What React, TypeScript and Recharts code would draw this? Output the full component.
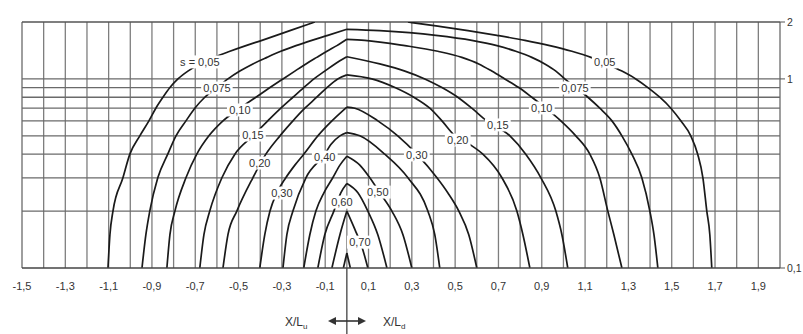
import React from "react";
import { ComposedChart, Line, Scatter, XAxis, YAxis, ReferenceLine } from "recharts";

type Pt = [number, number];

// axis ticks and grid
const xTicks = [-1.5, -1.3, -1.1, -0.9, -0.7, -0.5, -0.3, -0.1, 0.1, 0.3, 0.5, 0.7, 0.9, 1.1, 1.3, 1.5, 1.7, 1.9];
const yTicks = [0.1, 1, 2];
const gridX = [
  -1.4, -1.3, -1.2, -1.1, -1, -0.9, -0.8, -0.7, -0.6, -0.5, -0.4, -0.3, -0.2, -0.1, 0,
  0.1, 0.2, 0.3, 0.4, 0.5, 0.6, 0.7, 0.8, 0.9, 1, 1.1, 1.2, 1.3, 1.4, 1.5, 1.6, 1.7, 1.8, 1.9
];
const gridY = [0.2, 0.3, 0.4, 0.5, 0.6, 0.7, 0.8, 0.9, 1];

// isolines s = const, left (upstream) and right (downstream) branches: [x/L, y]
const s005L: Pt[] = [[-1.103, 0.1], [-1.094, 0.15], [-1.08, 0.2], [-1.034, 0.3], [-1.002, 0.4], [-0.956, 0.5], [-0.914, 0.6], [-0.882, 0.7], [-0.849, 0.8], [-0.817, 0.9], [-0.78, 1.0], [-0.734, 1.1], [-0.679, 1.2], [-0.614, 1.3], [-0.54, 1.4], [-0.466, 1.5], [-0.392, 1.6], [-0.263, 1.8], [-0.148, 2.0]];
const s005R: Pt[] = [[0.282, 2.0], [0.42, 1.9], [0.559, 1.8], [0.693, 1.7], [0.822, 1.6], [0.937, 1.5], [1.039, 1.4], [1.127, 1.3], [1.2, 1.2], [1.27, 1.1], [1.334, 1.0], [1.39, 0.9], [1.445, 0.8], [1.496, 0.7], [1.542, 0.6], [1.588, 0.5], [1.62, 0.4], [1.644, 0.3], [1.662, 0.2], [1.676, 0.15], [1.685, 0.1]];
const s0075L: Pt[] = [[-0.946, 0.1], [-0.928, 0.15], [-0.91, 0.2], [-0.873, 0.3], [-0.827, 0.4], [-0.789, 0.5], [-0.743, 0.6], [-0.702, 0.7], [-0.656, 0.8], [-0.6, 0.9], [-0.549, 1.0], [-0.494, 1.1], [-0.434, 1.2], [-0.369, 1.3], [-0.305, 1.4], [-0.235, 1.5], [-0.162, 1.6], [-0.088, 1.7], [0, 1.83]];
const s0075R: Pt[] = [[0, 1.83], [0.152, 1.8], [0.411, 1.7], [0.577, 1.6], [0.693, 1.5], [0.78, 1.4], [0.854, 1.3], [0.914, 1.2], [0.965, 1.1], [1.006, 1.0], [1.057, 0.9], [1.113, 0.8], [1.168, 0.7], [1.224, 0.6], [1.27, 0.5], [1.316, 0.4], [1.362, 0.3], [1.399, 0.2], [1.418, 0.15], [1.436, 0.1]];
const s010L: Pt[] = [[-0.831, 0.1], [-0.817, 0.15], [-0.794, 0.2], [-0.743, 0.3], [-0.693, 0.4], [-0.637, 0.5], [-0.572, 0.6], [-0.494, 0.7], [-0.42, 0.8], [-0.355, 0.9], [-0.295, 1.0], [-0.24, 1.1], [-0.189, 1.2], [-0.139, 1.3], [-0.092, 1.4], [-0.046, 1.5], [0, 1.62]];
const s010R: Pt[] = [[0, 1.62], [0.083, 1.6], [0.268, 1.5], [0.42, 1.4], [0.531, 1.3], [0.609, 1.2], [0.669, 1.1], [0.729, 1.0], [0.794, 0.9], [0.854, 0.8], [0.919, 0.7], [0.988, 0.6], [1.057, 0.5], [1.122, 0.4], [1.168, 0.3], [1.205, 0.2], [1.233, 0.15], [1.27, 0.1]];
const s015L: Pt[] = [[-0.679, 0.1], [-0.66, 0.15], [-0.633, 0.2], [-0.577, 0.3], [-0.517, 0.4], [-0.434, 0.5], [-0.365, 0.6], [-0.305, 0.7], [-0.249, 0.8], [-0.199, 0.9], [-0.152, 1.0], [-0.102, 1.1], [-0.055, 1.2], [0, 1.31]];
const s015R: Pt[] = [[0, 1.31], [0.152, 1.2], [0.268, 1.1], [0.36, 1.0], [0.439, 0.9], [0.512, 0.8], [0.577, 0.7], [0.646, 0.6], [0.753, 0.5], [0.826, 0.4], [0.896, 0.3], [0.965, 0.2], [0.993, 0.15], [1.02, 0.1]];
const s020L: Pt[] = [[-0.572, 0.1], [-0.549, 0.15], [-0.508, 0.2], [-0.434, 0.3], [-0.374, 0.4], [-0.309, 0.5], [-0.249, 0.6], [-0.194, 0.7], [-0.139, 0.8], [-0.092, 0.9], [-0.042, 1.0], [0, 1.05]];
const s020R: Pt[] = [[0, 1.05], [0.115, 1.0], [0.222, 0.9], [0.309, 0.8], [0.383, 0.7], [0.439, 0.6], [0.499, 0.5], [0.568, 0.45], [0.628, 0.4], [0.716, 0.3], [0.785, 0.2], [0.813, 0.15], [0.845, 0.1]];
const s030L: Pt[] = [[-0.402, 0.1], [-0.379, 0.15], [-0.355, 0.2], [-0.323, 0.25], [-0.282, 0.3], [-0.24, 0.35], [-0.199, 0.4], [-0.134, 0.5], [-0.069, 0.6], [0, 0.71]];
const s030R: Pt[] = [[0, 0.71], [0.037, 0.7], [0.143, 0.6], [0.235, 0.5], [0.323, 0.4], [0.416, 0.3], [0.466, 0.25], [0.517, 0.2], [0.563, 0.15], [0.6, 0.1]];
const s040L: Pt[] = [[-0.295, 0.1], [-0.277, 0.15], [-0.249, 0.2], [-0.189, 0.3], [-0.102, 0.4], [-0.074, 0.45], [-0.032, 0.5], [0, 0.52]];
const s040R: Pt[] = [[0, 0.52], [0.06, 0.5], [0.175, 0.4], [0.282, 0.3], [0.374, 0.2], [0.406, 0.15], [0.429, 0.1]];
const s050L: Pt[] = [[-0.199, 0.1], [-0.171, 0.15], [-0.143, 0.2], [-0.106, 0.25], [-0.065, 0.3], [-0.032, 0.35], [0, 0.39]];
const s050R: Pt[] = [[0, 0.39], [0.06, 0.35], [0.106, 0.3], [0.152, 0.25], [0.208, 0.2], [0.259, 0.15], [0.3, 0.1]];
const s060L: Pt[] = [[-0.134, 0.1], [-0.102, 0.15], [-0.06, 0.2], [-0.028, 0.25], [0, 0.28]];
const s060R: Pt[] = [[0, 0.28], [0.051, 0.25], [0.097, 0.2], [0.143, 0.15], [0.185, 0.1]];
const s070L: Pt[] = [[-0.069, 0.1], [-0.032, 0.15], [0, 0.2]];
const s070R: Pt[] = [[0, 0.2], [0.037, 0.16], [0.069, 0.13], [0.097, 0.1]];
const tipL: Pt[] = [[-0.016, 0.1], [0, 0.12]];
const tipR: Pt[] = [[0, 0.12], [0.016, 0.1]];

const legs = [
  s005L, s005R, s0075L, s0075R, s010L, s010R, s015L, s015R, s020L, s020R,
  s030L, s030R, s040L, s040R, s050L, s050R, s060L, s060R, s070L, s070R, tipL, tipR
];

// curve labels
const labelText = ["s = 0,05", "0,075", "0,10", "0,15", "0,20", "0,30", "0,40", "0,60", "0,70", "0,50", "0,30", "0,20", "0,15", "0,10", "0,075", "0,05"];
const labelX = [-0.679, -0.6, -0.494, -0.434, -0.402, -0.3, -0.102, -0.023, 0.06, 0.143, 0.323, 0.512, 0.697, 0.9, 1.053, 1.191];
const labelY = [1.23, 0.895, 0.685, 0.505, 0.359, 0.249, 0.386, 0.223, 0.137, 0.252, 0.396, 0.475, 0.571, 0.702, 0.895, 1.23];

const FONT = "'Liberation Sans', Arial, sans-serif";
const comma = (v: number) => String(Math.round(v * 10) / 10).replace(".", ",");

const LabelBox = (p: any) => {
  const t: string = p.payload.t;
  const w = t.length * 5.7 + 3;
  return (
    <g>
      <rect x={p.cx - w / 2} y={p.cy - 6.5} width={w} height={13} fill="#fff" />
      <text x={p.cx} y={p.cy + 4} textAnchor="middle" fontSize={11} fill="#333" fontFamily={FONT}>
        {t}
      </text>
    </g>
  );
};

export default function App() {
  const labelRows = labelText.map((t, i) => ({ x: labelX[i], y: labelY[i], t }));

  return (
    <div style={{ position: "absolute", left: 0, top: 0, width: 803, height: 334, background: "#fff", overflow: "hidden" }}>
      <ComposedChart width={803} height={334} margin={{ top: 22, right: 0, bottom: 36, left: 22 }}>
        <XAxis
          type="number"
          dataKey="x"
          domain={[-1.5, 2]}
          ticks={xTicks}
          interval={0}
          allowDataOverflow
          tickFormatter={comma}
          tickLine={false}
          tickSize={0}
          tickMargin={14}
          height={30}
          axisLine={{ stroke: "#444", strokeWidth: 1.4 }}
          tick={{ fontSize: 11, fill: "#333", fontFamily: FONT }}
        />
        <YAxis
          yAxisId={0}
          orientation="right"
          dataKey="y"
          scale="log"
          domain={[0.1, 2]}
          ticks={yTicks}
          allowDataOverflow
          tickFormatter={comma}
          axisLine={false}
          tickLine={{ stroke: "#555" }}
          tickSize={5}
          tickMargin={2}
          width={23}
          tick={{ fontSize: 10.5, fill: "#333", fontFamily: FONT }}
        />
        {gridX.map((v) => (
          <ReferenceLine key={"gx" + v} x={v} stroke="#7e7e7e" strokeWidth={1.3} />
        ))}
        {gridY.map((v) => (
          <ReferenceLine key={"gy" + v} y={v} stroke="#6a6a6a" strokeWidth={1.3} />
        ))}
        <ReferenceLine x={-1.5} stroke="#6a6a6a" strokeWidth={1.3} />
        <ReferenceLine x={2} stroke="#6a6a6a" strokeWidth={1.3} />
        <ReferenceLine y={2} stroke="#555" strokeWidth={1.4} />
        <ReferenceLine
          segment={[{ x: 0, y: 0.1 }, { x: 0, y: 0.04 }]}
          stroke="#333"
          strokeWidth={1.2}
          ifOverflow="visible"
        />
        {legs.map((leg, i) => (
          <Line
            key={"leg" + i}
            data={leg.map(([x, y]) => ({ x, y }))}
            dataKey="y"
            type="monotone"
            stroke="#1a1a1a"
            strokeWidth={1.7}
            dot={false}
            activeDot={false}
            isAnimationActive={false}
          />
        ))}
        <Scatter data={labelRows} dataKey="y" shape={LabelBox} isAnimationActive={false} />
      </ComposedChart>
      <svg width={803} height={334} style={{ position: "absolute", left: 0, top: 0, pointerEvents: "none" }}>
        <g fontFamily={FONT} fontSize={12} fill="#333">
          <text x={285} y={326}>
            X/L<tspan fontSize={8} dy={3}>u</tspan>
          </text>
          <text x={383} y={326}>
            X/L<tspan fontSize={8} dy={3}>d</tspan>
          </text>
        </g>
        <line x1={333} y1={321} x2={361} y2={321} stroke="#333" strokeWidth={1.6} />
        <polygon points="328,321 336,317 336,325" fill="#333" />
        <polygon points="366,321 358,317 358,325" fill="#333" />
      </svg>
    </div>
  );
}
